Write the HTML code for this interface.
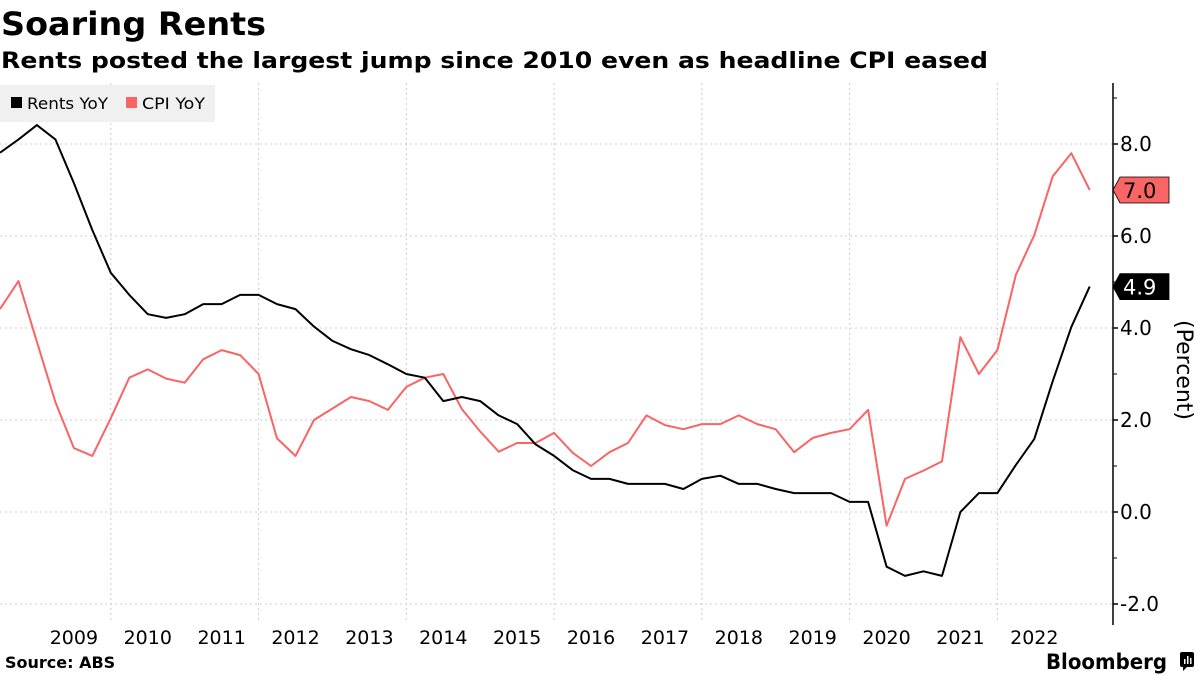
<!DOCTYPE html>
<html><head><meta charset="utf-8">
<style>
html,body{margin:0;padding:0;background:#fff;}
svg{display:block;font-family:"DejaVu Sans","Liberation Sans",sans-serif;}
</style></head>
<body>
<svg id="chart" width="1200" height="675" viewBox="0 0 1200 675" xmlns="http://www.w3.org/2000/svg">
  <text x="1" y="35" font-size="32" font-weight="bold" textLength="265" lengthAdjust="spacingAndGlyphs">Soaring Rents</text>
  <text x="1" y="68" font-size="22" font-weight="bold" textLength="987" lengthAdjust="spacingAndGlyphs">Rents posted the largest jump since 2010 even as headline CPI eased</text>
  <g id="grid"></g>
  <g id="series"></g>
  <g id="axis"></g>
  <g id="xaxis"></g>
  <g>
    <rect x="0" y="85" width="215" height="37" fill="#f0f0f0"/>
    <rect x="11" y="97" width="11" height="11" fill="#000"/>
    <text x="27" y="109" font-size="16" textLength="81" lengthAdjust="spacingAndGlyphs">Rents YoY</text>
    <rect x="126" y="97" width="11" height="11" fill="#f96464"/>
    <text x="142" y="109" font-size="16" textLength="63" lengthAdjust="spacingAndGlyphs">CPI YoY</text>
  </g>
  <text transform="translate(1177,370) rotate(90)" text-anchor="middle" font-size="22">(Percent)</text>
  <text x="5" y="668" font-size="16" font-weight="bold">Source: ABS</text>
  <text x="1046" y="669" font-size="21" font-weight="bold" textLength="121" lengthAdjust="spacingAndGlyphs">Bloomberg</text>
  <g>
    <rect x="1180" y="652" width="14" height="15" rx="2" fill="#000"/>
    <polygon points="1183,667 1187,667 1183,671" fill="#000"/>
    <rect x="1184" y="659" width="1.5" height="5" fill="#fff"/>
    <rect x="1187" y="656" width="1.5" height="8" fill="#fff"/>
    <rect x="1190" y="658" width="1.5" height="6" fill="#fff"/>
  </g>
</svg>
<script>
const rentsValues = [7.81,8.1,8.41,8.1,7.15,6.13,5.2,4.72,4.3,4.22,4.3,4.52,4.52,4.72,4.72,4.52,4.41,4.03,3.72,3.54,3.41,3.21,3.0,2.92,2.41,2.5,2.41,2.1,1.91,1.47,1.22,0.91,0.72,0.72,0.61,0.61,0.61,0.5,0.72,0.79,0.61,0.61,0.5,0.41,0.41,0.41,0.22,0.22,-1.19,-1.39,-1.29,-1.39,0.0,0.41,0.41,1.02,1.59,2.85,4.02,4.9];
const cpiValues = [4.41,5.02,3.7,2.39,1.39,1.22,2.04,2.92,3.1,2.9,2.81,3.32,3.52,3.41,3.0,1.6,1.22,2.0,2.25,2.5,2.41,2.22,2.72,2.92,3.0,2.24,1.75,1.31,1.5,1.5,1.72,1.29,1.0,1.3,1.5,2.1,1.89,1.8,1.91,1.91,2.1,1.91,1.8,1.3,1.61,1.72,1.8,2.22,-0.3,0.72,0.9,1.1,3.8,3.0,3.52,5.15,6.02,7.3,7.8,7.0];
const yearLabels = ["2009","2010","2011","2012","2013","2014","2015","2016","2017","2018","2019","2020","2021","2022"];
const yTicks = [-2,0,2,4,6,8];
const yMinorTicks = [-1,1,3,5,7,9];

const NS = "http://www.w3.org/2000/svg";
const STEP = 18.47;
const X = i => i * STEP;
const Y = v => 512 - 46 * v;
const AXIS_X = 1113;
function mk(tag, attrs, parent){ const e=document.createElementNS(NS,tag); for(const k in attrs) e.setAttribute(k,attrs[k]); parent.appendChild(e); return e; }

const grid = document.getElementById('grid');
yTicks.forEach(t=>{
  const l = mk('line',{x1:0,x2:AXIS_X,y1:Y(t),y2:Y(t),stroke:'#cccccc','stroke-dasharray':'2,3','stroke-width':1},grid);
  
  
});
for(let k=0;k<7;k++){
  const gx = X(6 + 8*k);
  const l = mk('line',{x1:gx,x2:gx,y1:83,y2:620,stroke:'#cccccc','stroke-dasharray':'2,3','stroke-width':1},grid);
  
  
}

const series = document.getElementById('series');
function line(vals,color,name){
  const p = mk('polyline',{points:vals.map((v,i)=>X(i).toFixed(1)+','+Y(v).toFixed(1)).join(' '),fill:'none',stroke:color,'stroke-width':2,'stroke-linejoin':'round'},series);
  
  
}
line(cpiValues,'#f96464','cpi-line');
line(rentsValues,'#000000','rents-line');

const axis = document.getElementById('axis');
const al = mk('line',{x1:AXIS_X,x2:AXIS_X,y1:83,y2:625,stroke:'#000','stroke-width':1.5},axis);


yTicks.forEach(t=>{
  const tk = mk('line',{x1:AXIS_X,x2:AXIS_X+5,y1:Y(t),y2:Y(t),stroke:'#000','stroke-width':1.5},axis);
  
  
  const tx = mk('text',{x:AXIS_X+7,y:Y(t)+7,'font-size':20},axis);
  tx.textContent = t.toFixed(1);
  
  
});
yMinorTicks.forEach(t=>{
  const tk = mk('line',{x1:AXIS_X,x2:AXIS_X+4,y1:Y(t),y2:Y(t),stroke:'#000','stroke-width':1},axis);
  
  
});

function tag(val,bg,fg,name){
  const y = Y(val);
  const g = mk('g',{},axis);
  
  
  mk('polygon',{points:`${AXIS_X},${y} ${AXIS_X+7},${y-13} ${AXIS_X+56},${y-13} ${AXIS_X+56},${y+13} ${AXIS_X+7},${y+13}`,fill:bg,stroke:'#000','stroke-width':0.8},g);
  const t = mk('text',{x:AXIS_X+10,y:y+8,'font-size':21,fill:fg},g);
  t.textContent = val.toFixed(1);
}
tag(cpiValues[cpiValues.length-1],'#f96464','#000','cpi-last-value-tag');
tag(rentsValues[rentsValues.length-1],'#000','#fff','rents-last-value-tag');

const xaxis = document.getElementById('xaxis');
yearLabels.forEach((lab,k)=>{
  const t = mk('text',{x:X(4+4*k),y:644,'font-size':19,'text-anchor':'middle'},xaxis);
  t.textContent = lab;
  
  
});
</script>
</body></html>
